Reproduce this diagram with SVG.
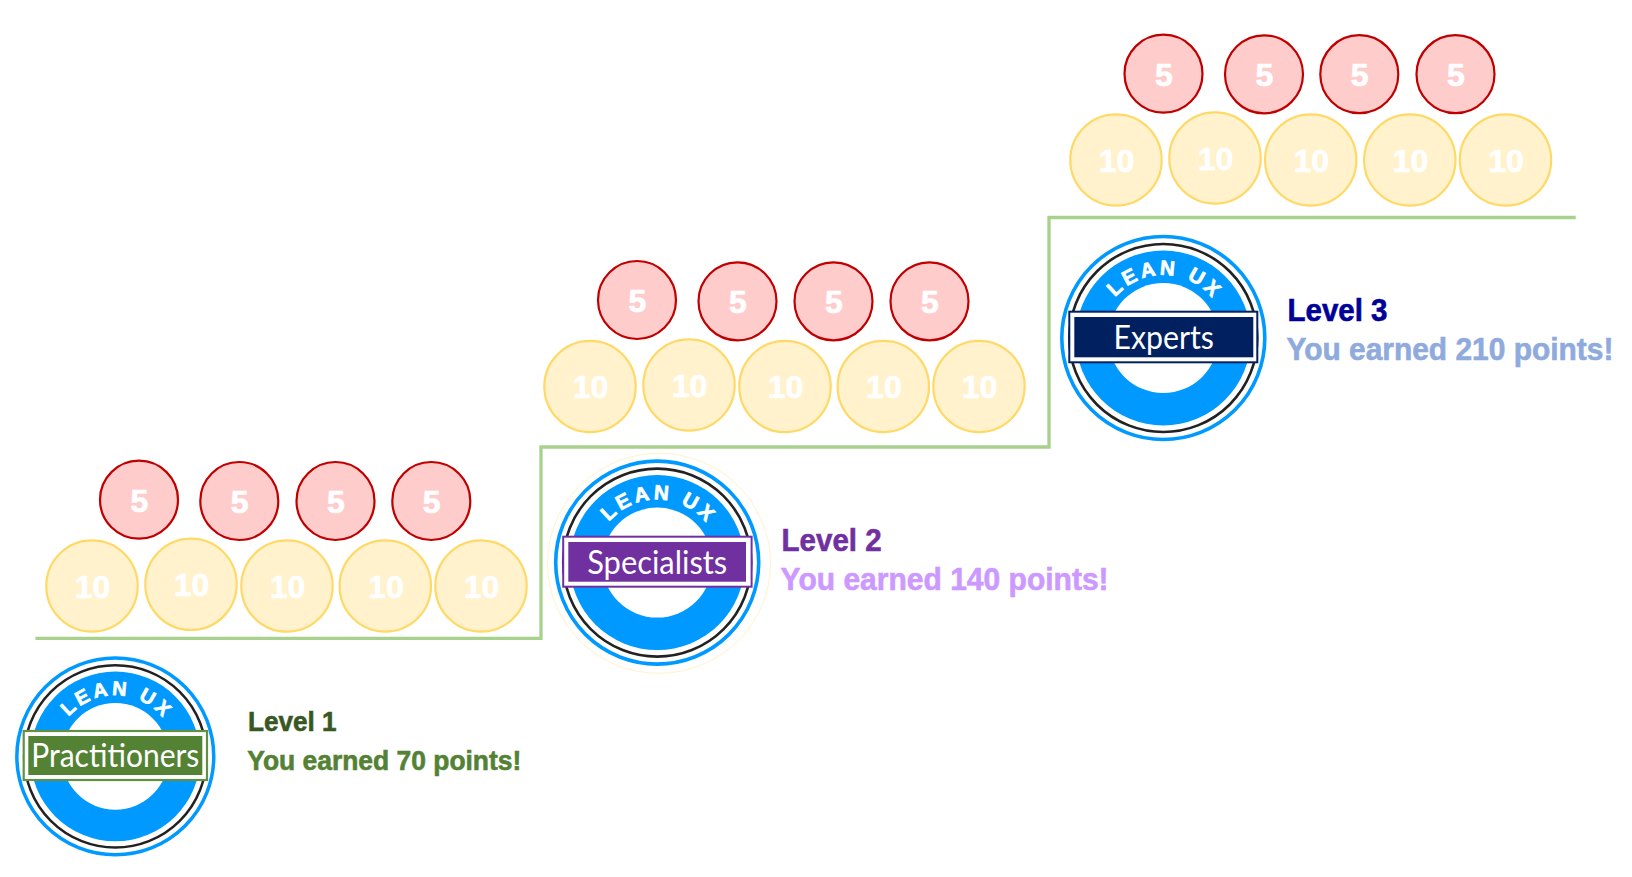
<svg xmlns="http://www.w3.org/2000/svg" width="1632" height="877" viewBox="0 0 1632 877">
<style>
.five{fill:#FFCCCC;stroke:#C00000;stroke-width:2.2}
.ten{fill:#FFF2CC;stroke:#FFD966;stroke-width:2.2}
.n{font-family:"Liberation Sans",Arial,sans-serif;font-weight:700;fill:#fff;stroke:#fff;stroke-width:.7;text-anchor:middle}
.n5{font-size:32px}.n10{font-size:32px}
.outer{fill:#fff;stroke:#0099FF;stroke-width:3.6}
.black{fill:#fff;stroke:#222;stroke-width:2.6}
.disc{fill:#0099FF}
.hole{fill:#fff}
.arc{font-family:"Liberation Sans",Arial,sans-serif;font-weight:700;font-size:20.5px;letter-spacing:3.4px;fill:#fff;stroke:#fff;stroke-width:.7;text-anchor:middle}
.ban{font-family:"Lato","Open Sans",sans-serif;font-size:32px;fill:#fff;text-anchor:middle}
.lv{font-family:"Liberation Sans",Arial,sans-serif;font-weight:700;stroke-width:.6}
.wire{fill:none;stroke:#A9D18E;stroke-width:3.3}
</style>
<defs>
<path id="arcp" d="M-63,0 A63,63 0 0 1 63,0"/>
<g id="badge">
<circle class="outer" r="101.5"/>
<circle class="black" r="94"/>
<circle class="disc" r="87.5"/>
<circle class="hole" r="55"/>
<text class="arc"><textPath href="#arcp" startOffset="51%">LEAN UX</textPath></text>
</g>
<g id="c5t"><circle class="five" r="39"/><text class="n n5" y="12" x=".3">5</text></g>
<g id="c10t"><circle class="ten" r="45.7"/><text class="n n10" y="11.7" x=".6">10</text></g>
</defs>
<g id="connectors"><path class="wire" d="M35.4,638.3H541V447H1049V217.5H1575.7"/></g>

<g id="level1-coins">
<use href="#c5t" x="139" y="499.7"/><use href="#c5t" x="239.3" y="501"/><use href="#c5t" x="335.5" y="501"/><use href="#c5t" x="431.3" y="501"/>
<use href="#c10t" x="92" y="586"/><use href="#c10t" x="191" y="584.3"/><use href="#c10t" x="287" y="586"/><use href="#c10t" x="385.3" y="586"/><use href="#c10t" x="481" y="586"/>
</g>
<g id="level2-coins">
<use href="#c5t" x="637" y="300"/><use href="#c5t" x="737.5" y="301.3"/><use href="#c5t" x="833.5" y="301.3"/><use href="#c5t" x="929.5" y="301.3"/>
<use href="#c10t" x="590" y="386.5"/><use href="#c10t" x="689" y="385"/><use href="#c10t" x="785" y="386.5"/><use href="#c10t" x="883.3" y="386.5"/><use href="#c10t" x="979" y="386.5"/>
</g>
<g id="level3-coins">
<use href="#c5t" x="1163.5" y="73.7"/><use href="#c5t" x="1264" y="74.3"/><use href="#c5t" x="1359.3" y="74.2"/><use href="#c5t" x="1455.5" y="74.2"/>
<use href="#c10t" x="1116" y="160"/><use href="#c10t" x="1215" y="158"/><use href="#c10t" x="1310.7" y="160"/><use href="#c10t" x="1409.8" y="160"/><use href="#c10t" x="1505.5" y="160"/>
</g>

<g id="level1" transform="translate(115.3,756.4)">
<use href="#badge" transform="scale(.97)"/>
<rect x="-91.6" y="-25.4" width="183.3" height="49" fill="#fff" stroke="#628F41" stroke-width="2.2"/>
<rect x="-87" y="-20.4" width="174" height="39" fill="#548235"/>
<text class="ban" y="10.4" x="0" textLength="168" lengthAdjust="spacingAndGlyphs">Practitioners</text>
</g>
<g id="level2">
<ellipse cx="659" cy="563.3" rx="111.5" ry="110" fill="none" stroke="#FFF2CC" stroke-width="1"/>
<g transform="translate(657.2,562.6)">
<use href="#badge"/>
<rect x="-94" y="-25.9" width="188.4" height="50" fill="#fff" stroke="#7030A0" stroke-width="2"/>
<rect x="-88.9" y="-20.6" width="177.7" height="39.7" fill="#7030A0"/>
<text class="ban" y="10.9" x="0" textLength="140" lengthAdjust="spacingAndGlyphs">Specialists</text>
</g>
</g>
<g id="level3" transform="translate(1163.3,338)">
<use href="#badge"/>
<rect x="-94" y="-26.3" width="188" height="50.6" fill="#fff" stroke="#002060" stroke-width="2"/>
<rect x="-89" y="-21" width="179" height="40.3" fill="#002060"/>
<text class="ban" y="10.6" x=".4" textLength="100.5" lengthAdjust="spacingAndGlyphs">Experts</text>
</g>

<g id="label1">
<text class="lv" x="248" y="731" font-size="27.5" fill="#385723" stroke="#385723" textLength="88.5" lengthAdjust="spacingAndGlyphs">Level 1</text>
<text class="lv" x="247.3" y="769.5" font-size="27.5" fill="#548235" stroke="#548235" textLength="274" lengthAdjust="spacingAndGlyphs">You earned 70 points!</text>
</g>
<g id="label2">
<text class="lv" x="781.6" y="550.6" font-size="31" fill="#7030A0" stroke="#7030A0" textLength="100" lengthAdjust="spacingAndGlyphs">Level 2</text>
<text class="lv" x="780.6" y="590" font-size="31" fill="#CC99FF" stroke="#CC99FF" textLength="328" lengthAdjust="spacingAndGlyphs">You earned 140 points!</text>
</g>
<g id="label3">
<text class="lv" x="1287.5" y="320.6" font-size="31" fill="#000099" stroke="#000099" textLength="100" lengthAdjust="spacingAndGlyphs">Level 3</text>
<text class="lv" x="1286.4" y="360" font-size="31" fill="#8FAADC" stroke="#8FAADC" textLength="327" lengthAdjust="spacingAndGlyphs">You earned 210 points!</text>
</g>
</svg>
